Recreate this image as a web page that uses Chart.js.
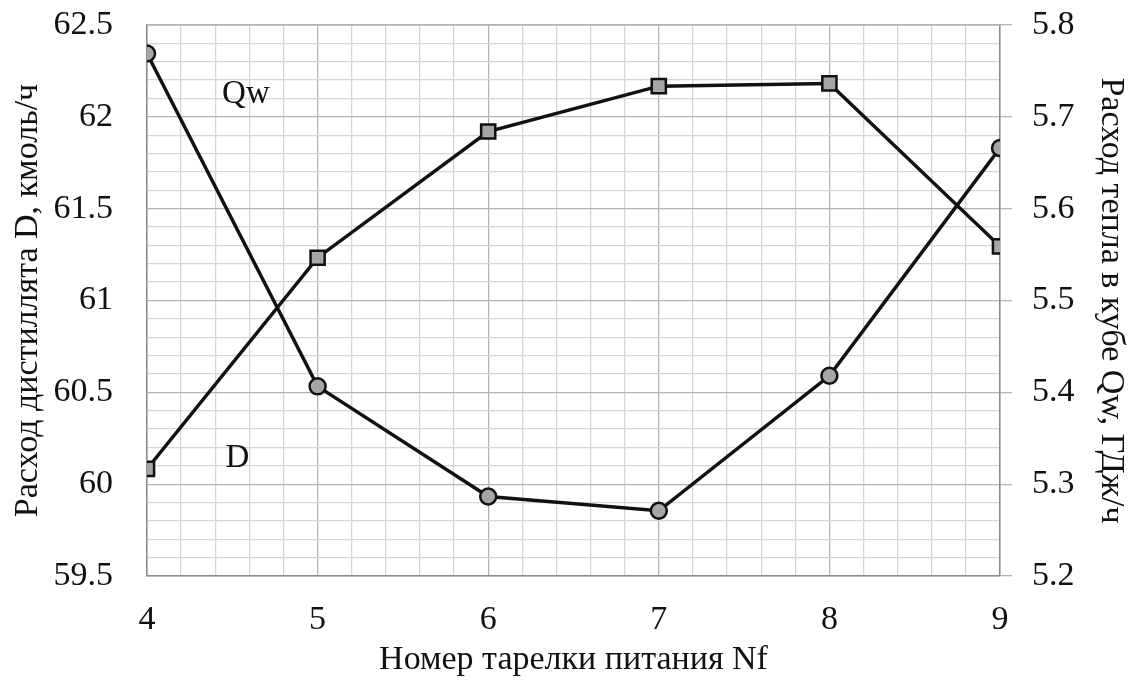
<!DOCTYPE html>
<html><head><meta charset="utf-8">
<script src="https://cdn.jsdelivr.net/npm/chart.js@4"></script>
<style>html,body{margin:0;padding:0;background:#fff}#wrap{width:1137px;height:684px}</style>
</head><body><div id="wrap"><canvas id="c" width="1137" height="684"></canvas></div>
<script>
const nf = [4, 5, 6, 7, 8, 9];
const distillateD = [60.083, 61.233, 61.92, 62.167, 62.182, 61.295];
const heatQw = [5.769, 5.4065, 5.2865, 5.271, 5.418, 5.666];
const leftTicks = [59.5, 60, 60.5, 61, 61.5, 62, 62.5];
const rightTicks = [5.2, 5.3, 5.4, 5.5, 5.6, 5.7, 5.8];
const xTitle = 'Номер тарелки питания Nf';
const leftTitle = 'Расход дистиллята D, кмоль/ч';
const rightTitle = 'Расход тепла в кубе Qw, ГДж/ч';
const notes = [{text:'Qw', x:4.58, y:62.12}, {text:'D', x:4.53, y:60.14}];

const FONT = 'Liberation Serif, Times New Roman, serif';
const near = (v, s) => Math.abs(v / s - Math.round(v / s)) < 1e-6;

const notePlugin = {
  id: 'notes',
  afterDatasetsDraw(chart) {
    const ctx = chart.ctx, xs = chart.scales.x, ys = chart.scales.y;
    ctx.save();
    ctx.font = '33px ' + FONT;
    ctx.fillStyle = '#111';
    ctx.textAlign = 'center';
    ctx.textBaseline = 'middle';
    notes.forEach(n => ctx.fillText(n.text, xs.getPixelForValue(n.x), ys.getPixelForValue(n.y)));
    ctx.restore();
  }
};

new Chart(document.getElementById('c'), {
  type: 'line',
  data: {
    datasets: [
      {label: 'D', data: nf.map((x, i) => ({x, y: distillateD[i]})), yAxisID: 'y',
       borderColor: '#111', borderWidth: 3.5, pointStyle: 'rect', pointRadius: 10,
       pointBackgroundColor: '#a6a6a6', pointBorderColor: '#111', pointBorderWidth: 2.5, tension: 0},
      {label: 'Qw', data: nf.map((x, i) => ({x, y: heatQw[i]})), yAxisID: 'y1',
       borderColor: '#111', borderWidth: 3.5, pointStyle: 'circle', pointRadius: 8,
       pointBackgroundColor: '#a6a6a6', pointBorderColor: '#111', pointBorderWidth: 2.5, tension: 0}
    ]
  },
  options: {
    responsive: false, animation: false, events: [],
    layout: {padding: {top: 0, left: 0, right: 0, bottom: 0}},
    plugins: {legend: {display: false}, tooltip: {enabled: false}},
    scales: {
      x: {
        type: 'linear', min: 4, max: 9,
        afterBuildTicks: s => { const t = []; for (let i = 0; i <= 25; i++) t.push({value: 4 + i * 0.2}); s.ticks = t; },
        afterFit: s => { s.height = 108; s.paddingLeft = 0; s.paddingRight = 0; },
        grid: {color: c => near(c.tick.value, 1) ? '#b4b4b4' : '#d6d6d6', lineWidth: 1.3, drawTicks: false},
        border: {color: '#8c8c8c', width: 1.5},
        ticks: {autoSkip: false, maxRotation: 0, padding: 24, color: '#111', font: {family: FONT, size: 34},
                callback: v => near(v, 1) ? String(Math.round(v)) : ''},
        title: {display: true, text: xTitle, color: '#111', font: {family: FONT, size: 34}, padding: {top: 0, bottom: 4}}
      },
      y: {
        type: 'linear', position: 'left', min: 59.5, max: 62.5,
        afterBuildTicks: s => { const t = []; for (let i = 0; i <= 30; i++) t.push({value: 59.5 + i * 0.1}); s.ticks = t; },
        afterFit: s => { s.width = 147; s.paddingTop = 25; s.paddingBottom = 0; },
        grid: {color: c => near(c.tick.value, 0.5) ? '#b4b4b4' : '#d6d6d6', lineWidth: 1.3, drawTicks: false},
        border: {color: '#8c8c8c', width: 1.5},
        ticks: {autoSkip: false, padding: 34, color: '#111', font: {family: FONT, size: 34},
                callback: v => near(v, 0.5) && leftTicks.some(t => Math.abs(t - v) < 1e-6) ? String(Math.round(v * 10) / 10) : ''},
        title: {display: true, text: leftTitle, color: '#111', font: {family: FONT, size: 34}, padding: {top: 8, bottom: 0}}
      },
      y1: {
        type: 'linear', position: 'right', min: 5.2, max: 5.8,
        afterBuildTicks: s => { s.ticks = rightTicks.map(v => ({value: v})); },
        afterFit: s => { s.width = 137; s.paddingTop = 25; s.paddingBottom = 0; },
        grid: {drawOnChartArea: false, color: '#b4b4b4', lineWidth: 1.3, tickLength: 12},
        border: {color: '#8c8c8c', width: 1.5},
        ticks: {autoSkip: false, padding: 20, color: '#111', font: {family: FONT, size: 34},
                callback: v => v.toFixed(1)},
        title: {display: true, text: rightTitle, color: '#111', font: {family: FONT, size: 34}, padding: {top: 6, bottom: 0}}
      }
    }
  },
  plugins: [notePlugin, {
    id: 'topBorder',
    beforeDatasetsDraw(chart) {
      const a = chart.chartArea, ctx = chart.ctx;
      ctx.save(); ctx.strokeStyle = '#b4b4b4'; ctx.lineWidth = 1.3;
      ctx.beginPath(); ctx.moveTo(a.left, a.top); ctx.lineTo(a.right, a.top); ctx.stroke(); ctx.restore();
    }
  }]
});
</script></body></html>
